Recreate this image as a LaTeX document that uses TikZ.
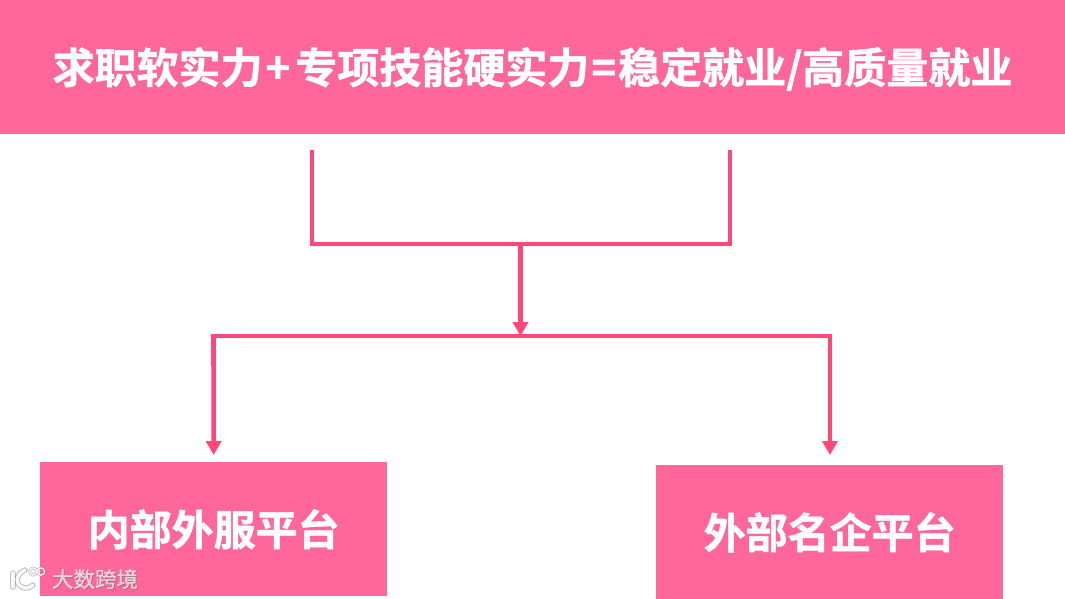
\documentclass[tikz,border=0pt]{standalone}
\usepackage{fontspec}
\setmainfont{Noto Sans CJK SC}
\newfontfamily\cjkb{Noto Sans CJK SC Bold}[FakeBold=1.2]
\newfontfamily\cjkr{Noto Sans CJK SC}[FakeBold=0.6]
\usetikzlibrary{arrows.meta}
\definecolor{boxpink}{HTML}{FF6699}
\definecolor{linepink}{HTML}{FF4778}
\tikzset{
  x=1pt,y=-1pt,
  pinkbox/.style={fill=boxpink,draw=none,inner sep=0pt,minimum width=347pt,minimum height=134pt,text=white,font=\cjkb\fontsize{42}{42}\selectfont},
  conn/.style={draw=linepink,line width=4.6pt,line cap=butt,line join=miter},
  arrowconn/.style={conn,-{Triangle[length=14pt,width=15pt]}},
  wmshadow/.style={draw=black!55,draw opacity=.45,line cap=round},
  wmlight/.style={draw=white,draw opacity=.9,line cap=round}
}
\begin{document}
\begin{tikzpicture}
\useasboundingbox (0,0) rectangle (1065,598);
\fill[white] (0,0) rectangle (1065,598);
\node[pinkbox,minimum width=1065pt,anchor=north west] (banner) at (0,0) {};
\node[text=white,font=\cjkb\fontsize{42}{42}\selectfont,anchor=center,inner sep=0pt] (title) at (532.5,69) {求职软实力\hspace{3pt}+\hspace{5pt}专项技能硬实力\hspace{2pt}=\hspace{2pt}稳定就业/高质量就业};
\node[pinkbox,anchor=north west] (inner) at (40,462) {内部外服平台};
\node[pinkbox,anchor=north west] (outer) at (656,465) {外部名企平台};
\coordinate (a) at (312,150);
\coordinate (b) at (730,150);
\coordinate (m) at (520.5,244);
\coordinate (n) at (520.5,336);
\coordinate (l) at (213.5,336);
\coordinate (r) at (830,336);
\draw[conn] (a) -- (a |- m) -- (b |- m) -- (b);
\draw[arrowconn] (m) -- (n);
\draw[conn,line cap=rect] (l) -- (r);
\draw[arrowconn,shorten >=7pt] (l) -- (inner.north);
\draw[arrowconn,shorten >=10pt] (r) -- (r |- outer.north);
% watermark logo
\foreach \st/\wa/\wb in {wmshadow/5.4/2.8,wmlight/3.4/1.3}{
  \draw[\st,line width=\wa pt] (13,573) -- (13,587);
  \draw[\st,line width=\wa pt] (25,570) .. controls (15,575) and (15,584) .. (22,587) .. controls (26,589) and (30,588) .. (33,585);
  \draw[\st,line width=\wb pt] (33,571.5) circle (3.6);
  \draw[\st,line width=\wb pt] (41,571.5) circle (3.6);
}
\node[text=black!60,text opacity=.5,font=\cjkr\fontsize{21.5}{22}\selectfont,inner sep=0pt] (wmshade) at (95.8,579.8) {大数跨境};
\node[text=white,text opacity=.7,font=\cjkr\fontsize{21.5}{22}\selectfont,inner sep=0pt] (wm) at (95,579) {大数跨境};
\end{tikzpicture}
\end{document}
